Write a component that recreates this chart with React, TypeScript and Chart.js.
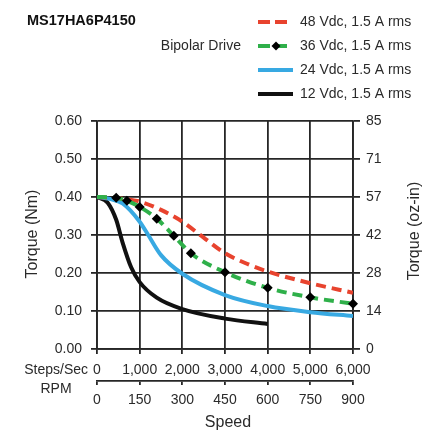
import React, { useEffect, useRef } from "react";
import { Chart, registerables } from "chart.js";

Chart.register(...registerables);

// ---- data (speed in steps/sec, torque in N·m) ----
const SPEED_48V = [0, 500, 1000, 1500, 2000, 2500, 3000, 3500, 4000, 5000, 6000];
const TORQUE_48V = [0.40, 0.397, 0.388, 0.366, 0.335, 0.293, 0.252, 0.225, 0.204, 0.173, 0.148];

const SPEED_36V = [0, 450, 700, 1000, 1400, 1800, 2200, 3000, 4000, 5000, 6000];
const TORQUE_36V = [0.40, 0.398, 0.39, 0.374, 0.343, 0.298, 0.252, 0.202, 0.161, 0.136, 0.119];

const SPEED_24V = [0, 300, 600, 1000, 1200, 1500, 2000, 3000, 4000, 5000, 6000];
const TORQUE_24V = [0.40, 0.395, 0.383, 0.335, 0.30, 0.247, 0.198, 0.142, 0.113, 0.097, 0.087];

const SPEED_12V = [0, 250, 450, 600, 800, 1000, 1400, 2000, 3000, 4000];
const TORQUE_12V = [0.40, 0.385, 0.34, 0.28, 0.215, 0.176, 0.135, 0.105, 0.080, 0.066];

const SERIES_LABELS = ["48 Vdc, 1.5 A rms", "36 Vdc, 1.5 A rms", "24 Vdc, 1.5 A rms", "12 Vdc, 1.5 A rms"];

const STEPS_TICKS = ["0", "1,000", "2,000", "3,000", "4,000", "5,000", "6,000"];
const RPM_TICKS = ["0", "150", "300", "450", "600", "750", "900"];
const NM_TICKS = ["0.00", "0.10", "0.20", "0.30", "0.40", "0.50", "0.60"];
const OZIN_TICKS = ["0", "14", "28", "42", "57", "71", "85"];

const TITLE = "MS17HA6P4150";
const DRIVE = "Bipolar Drive";

const FONT = "'Liberation Sans', Arial, sans-serif";
const TXT = "#2a2a2a";
const GRID = "#262626";

const toXY = (xs: number[], ys: number[]) => xs.map((x, i) => ({ x, y: ys[i] }));

export default function App() {
  const ref = useRef<HTMLCanvasElement | null>(null);

  useEffect(() => {
    document.body.style.margin = "0";
    const canvas = ref.current!;

    const decor = {
      id: "decor",
      afterDraw(chart: any) {
        const ctx = chart.ctx as CanvasRenderingContext2D;
        const ds = chart.data.datasets;
        ctx.save();
        // title
        ctx.fillStyle = "#111";
        ctx.font = `bold 14.5px ${FONT}`;
        ctx.textAlign = "left";
        ctx.textBaseline = "middle";
        ctx.fillText(TITLE, 27, 21);
        // bipolar drive
        ctx.font = `14px ${FONT}`;
        ctx.fillStyle = TXT;
        ctx.textAlign = "right";
        ctx.fillText(DRIVE, 241, 46);
        // legend
        const rows = [22, 46, 70, 94];
        const legendOrder = [1, 0, 2, 3]; // dataset indices for 48,36,24,12
        legendOrder.forEach((di, r) => {
          const d = ds[di];
          const y = rows[r];
          ctx.save();
          ctx.strokeStyle = d.borderColor;
          ctx.lineWidth = 4;
          const dashed = d.borderDash && d.borderDash.length;
          ctx.setLineDash(dashed ? [12, 5] : []);
          ctx.beginPath();
          ctx.moveTo(258, y);
          ctx.lineTo(dashed ? 288 : 293, y);
          ctx.stroke();
          ctx.setLineDash([]);
          if (d.pointStyle === "rectRot") {
            ctx.fillStyle = "#000";
            ctx.beginPath();
            ctx.moveTo(276, y - 4.5);
            ctx.lineTo(280.5, y);
            ctx.lineTo(276, y + 4.5);
            ctx.lineTo(271.5, y);
            ctx.closePath();
            ctx.fill();
          }
          ctx.restore();
          ctx.fillStyle = TXT;
          ctx.font = `14px ${FONT}`;
          ctx.textAlign = "left";
          ctx.textBaseline = "middle";
          ctx.fillText(SERIES_LABELS[r], 300, y);
        });
        // axis side labels
        const x2 = chart.scales.x2;
        ctx.font = `14px ${FONT}`;
        ctx.fillStyle = TXT;
        ctx.textAlign = "right";
        ctx.fillText("Steps/Sec", 88, 370);
        ctx.textAlign = "center";
        ctx.fillText("RPM", 56, 389);
        ctx.font = `16px ${FONT}`;
        ctx.fillText("Speed", (x2.left + x2.right) / 2 + 3, 423);
        // y titles
        const ca = chart.chartArea;
        const cy = (ca.top + ca.bottom) / 2;
        ctx.save();
        ctx.translate(33, cy - 1);
        ctx.rotate(-Math.PI / 2);
        ctx.fillText("Torque (Nm)", 0, 0);
        ctx.restore();
        ctx.save();
        ctx.translate(415, cy - 4);
        ctx.rotate(-Math.PI / 2);
        ctx.fillText("Torque (oz-in)", 0, 0);
        ctx.restore();
        ctx.restore();
      },
    };

    const tickFont = { family: FONT, size: 14 };

    const chart = new Chart(canvas, {
      type: "line",
      data: {
        datasets: [
          {
            label: SERIES_LABELS[1],
            data: toXY(SPEED_36V, TORQUE_36V),
            borderColor: "#2fb04a",
            borderWidth: 4,
            borderDash: [10, 6],
            pointStyle: "rectRot",
            pointRadius: (c: any) => (c.dataIndex === 0 ? 0 : 5),
            pointBackgroundColor: "#000",
            pointBorderColor: "#000",
            pointBorderWidth: 0,
            cubicInterpolationMode: "monotone",
            clip: 10,
          } as any,
          {
            label: SERIES_LABELS[0],
            data: toXY(SPEED_48V, TORQUE_48V),
            borderColor: "#e8432e",
            borderWidth: 4,
            borderDash: [10, 6],
            pointRadius: 0,
            cubicInterpolationMode: "monotone",
          },
          {
            label: SERIES_LABELS[2],
            data: toXY(SPEED_24V, TORQUE_24V),
            borderColor: "#38a9e2",
            borderWidth: 4,
            pointRadius: 0,
            cubicInterpolationMode: "monotone",
          },
          {
            label: SERIES_LABELS[3],
            data: toXY(SPEED_12V, TORQUE_12V),
            borderColor: "#111111",
            borderWidth: 4,
            pointRadius: 0,
            cubicInterpolationMode: "monotone",
          },
        ],
      },
      options: {
        animation: false,
        responsive: false,
        devicePixelRatio: 1,
        layout: { padding: { top: 121, left: 0, right: 0, bottom: 0 } },
        plugins: { legend: { display: false }, tooltip: { enabled: false } },
        scales: {
          x: {
            type: "linear",
            position: "bottom",
            weight: 1,
            min: 0,
            max: 6000,
            ticks: {
              stepSize: 1000,
              padding: 8,
              maxRotation: 0,
              autoSkip: false,
              font: tickFont,
              color: TXT,
              callback: (_v: any, i: number) => STEPS_TICKS[i],
            },
            grid: { color: GRID, lineWidth: 1.8, tickLength: 5 },
            border: { color: GRID, width: 1.8 },
            afterFit: (s: any) => {
              s.height = 32;
            },
          },
          x2: {
            type: "linear",
            position: "bottom",
            weight: 2,
            min: 0,
            max: 900,
            ticks: {
              stepSize: 150,
              padding: 7,
              maxRotation: 0,
              autoSkip: false,
              font: tickFont,
              color: TXT,
              callback: (_v: any, i: number) => RPM_TICKS[i],
            },
            grid: { drawOnChartArea: false, color: GRID, lineWidth: 1.8, tickLength: 4 },
            border: { color: GRID, width: 1.8 },
            afterFit: (s: any) => {
              s.height = 60;
            },
          },
          y: {
            type: "linear",
            position: "left",
            min: 0,
            max: 0.6,
            ticks: {
              stepSize: 0.1,
              padding: 9,
              font: tickFont,
              color: TXT,
              callback: (_v: any, i: number) => NM_TICKS[i],
            },
            grid: { color: GRID, lineWidth: 1.8, tickLength: 6 },
            border: { color: GRID, width: 1.8 },
            afterFit: (s: any) => {
              s.width = 97;
            },
          },
          y2: {
            type: "linear",
            position: "right",
            min: 0,
            max: 0.6,
            ticks: {
              stepSize: 0.1,
              padding: 6,
              font: tickFont,
              color: TXT,
              callback: (_v: any, i: number) => OZIN_TICKS[i],
            },
            grid: { drawOnChartArea: false, color: GRID, lineWidth: 1.8, tickLength: 7 },
            border: { color: GRID, width: 1.8 },
            afterFit: (s: any) => {
              s.width = 88;
            },
          },
        },
      } as any,
      plugins: [decor],
    });

    return () => chart.destroy();
  }, []);

  return (
    <div style={{ width: 441, height: 441, background: "#fff" }}>
      <canvas ref={ref} width={441} height={441} style={{ display: "block" }} />
    </div>
  );
}
